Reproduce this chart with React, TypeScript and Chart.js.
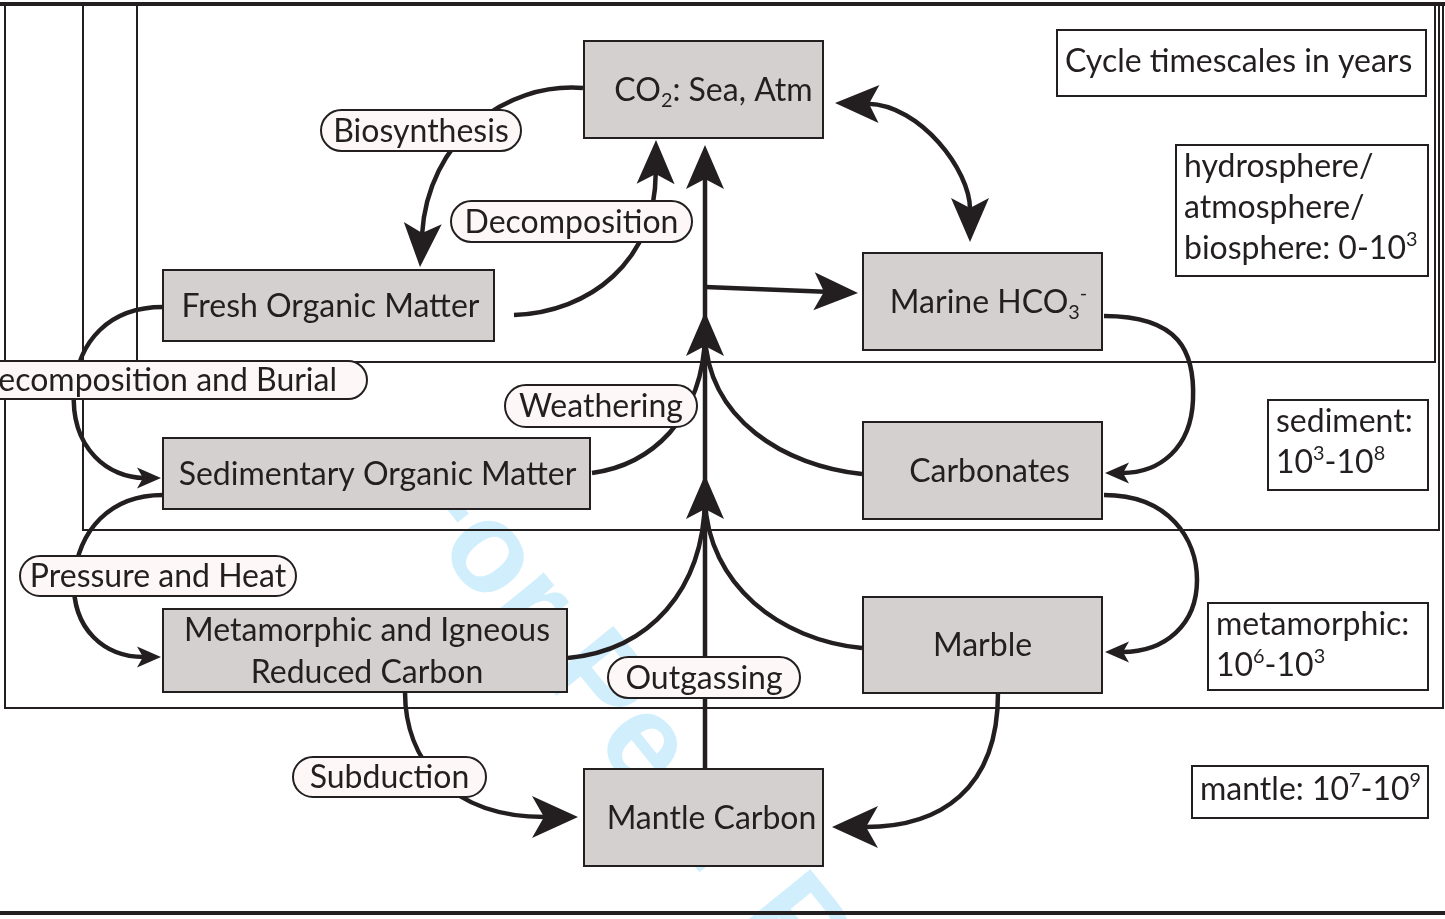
import React, { useEffect, useRef } from "react";
import { Chart, registerables } from "chart.js";

Chart.register(...registerables);

// ---------------- data ----------------
// Carbon reservoirs (grey boxes), diagram units
const reservoirLabels = [
  "CO_{2}: Sea, Atm",
  "Fresh Organic Matter",
  "Marine HCO_{3}^{-}",
  "Sedimentary Organic Matter",
  "Carbonates",
  "Metamorphic and Igneous|Reduced Carbon",
  "Marble",
  "Mantle Carbon",
];
const reservoirX0 = [584, 163, 863, 163, 863, 163, 863, 584];
const reservoirX1 = [823, 494, 1102, 590, 1102, 567, 1102, 823];
const reservoirY0 = [41, 270, 253, 438, 422, 609, 597, 769];
const reservoirY1 = [138, 341, 350, 509, 519, 692, 693, 866];
const reservoirTextShift = [10, 2, 6, 1, 7, 2, 0, 8];

// Process labels (pills); NaN left edge = fit to text (runs off the page)
const processLabels = [
  "Biosynthesis",
  "Decomposition",
  "Decomposition and Burial",
  "Weathering",
  "Pressure and Heat",
  "Outgassing",
  "Subduction",
];
const processX0 = [321, 451, NaN, 505, 20, 608, 293];
const processX1 = [521, 692, 367, 697, 296, 800, 486];
const processY0 = [110, 201, 361, 385, 556, 657, 757];
const processY1 = [151, 242, 399, 427, 596, 698, 797];

// Timescale legend boxes
const timescaleLines = [
  ["Cycle timescales in years"],
  ["hydrosphere/", "atmosphere/", "biosphere: 0-10^{3}"],
  ["sediment:", "10^{3}-10^{8}"],
  ["metamorphic:", "10^{6}-10^{3}"],
  ["mantle: 10^{7}-10^{9}"],
];
const timescaleX0 = [1057, 1176, 1268, 1208, 1192];
const timescaleX1 = [1426, 1428, 1428, 1428, 1428];
const timescaleY0 = [30, 145, 400, 603, 766];
const timescaleY1 = [96, 276, 490, 690, 818];
const timescaleFirstBaseline = [42, 32, 32, 32, 34];

// Zone frames (hydrosphere, sediment, metamorphic)
const zoneX0 = [137, 83, 5];
const zoneX1 = [1435, 1439, 1443];
const zoneY0 = [4, 4, 4];
const zoneY1 = [362, 530, 708];

// Fluxes: path points (start, [c1, c2, end]...)
const fluxPaths: number[][][] = [
  [[583, 88], [505, 82], [428, 140], [420, 267]], // biosynthesis
  [[514, 315], [590, 312], [655, 262], [656, 140]], // decomposition
  [[705, 769], [705, 145]], // outgassing / main trunk
  [[705, 287], [858, 293]], // to marine HCO3
  [[835, 103], [920, 105], [970, 170], [970, 242]], // CO2 <-> HCO3
  [[592, 473], [650, 465], [703, 420], [705, 335]], // weathering
  [[862, 474], [785, 466], [708, 420], [705, 335]], // carbonate weathering
  [[568, 658], [650, 650], [703, 590], [705, 500]], // metamorphic release
  [[862, 648], [780, 640], [708, 585], [705, 500]], // marble release
  [[1104, 316], [1180, 316], [1195, 352], [1193, 400], [1191, 448], [1160, 473], [1105, 473]],
  [[1104, 495], [1170, 495], [1197, 540], [1197, 580], [1197, 625], [1165, 652], [1105, 652]],
  [[163, 307], [110, 307], [78, 340], [74, 390], [70, 450], [110, 478], [161, 478]],
  [[163, 495], [110, 495], [78, 530], [74, 580], [72, 630], [105, 657], [161, 657]],
  [[405, 692], [405, 760], [450, 817], [578, 817]], // subduction
  [[998, 693], [998, 790], [940, 827], [832, 827]], // marble to mantle
];
const fluxHeads = ["end", "end", "end", "end", "both", "none", "none", "none", "none", "end", "end", "end", "end", "end", "end"];
const fluxHeadSize = ["big", "big", "big", "big", "big", "big", "big", "big", "big", "small", "small", "small", "small", "huge", "huge"];
const trunkHeadX = [705, 705];
const trunkHeadY = [312, 475];

// Watermark
const watermarkText = "For Peer Review";
const watermarkX = 413;
const watermarkY = 466;

// ---------------- styles ----------------
const INK = "#231f20";
const BOX_FILL = "#d3d0cf";
const PILL_FILL = "#fdf7f7";
const FONT = 'Lato, "Open Sans", sans-serif';
const FS = 32;
const BASE_SHIFT = 0.35;
const HEAD: Record<string, { len: number; hw: number; notch: number }> = {
  big: { len: 44, hw: 19, notch: 10 },
  huge: { len: 46, hw: 21, notch: 12 },
  small: { len: 24, hw: 10.5, notch: 6 },
};

type Seg = { t: string; k: "n" | "sub" | "sup" };
function parseRich(s: string): Seg[] {
  const out: Seg[] = [];
  const re = /([_^])\{([^}]*)\}/g;
  let last = 0;
  let m: RegExpExecArray | null;
  while ((m = re.exec(s))) {
    if (m.index > last) out.push({ t: s.slice(last, m.index), k: "n" });
    out.push({ t: m[2], k: m[1] === "_" ? "sub" : "sup" });
    last = re.lastIndex;
  }
  if (last < s.length) out.push({ t: s.slice(last), k: "n" });
  return out;
}

function layoutRich(ctx: CanvasRenderingContext2D, s: string, size: number) {
  const segs = parseRich(s);
  const items: { t: string; font: string; dx: number; dy: number }[] = [];
  let cx = 0;
  for (const sg of segs) {
    const sz = sg.k === "n" ? size : size * 0.62;
    const font = `${sz}px ${FONT}`;
    ctx.font = font;
    const w = ctx.measureText(sg.t).width;
    const dy = sg.k === "sub" ? size * 0.2 : sg.k === "sup" ? -size * 0.4 : 0;
    items.push({ t: sg.t, font, dx: cx, dy });
    cx += w;
  }
  return { items, width: cx };
}

function drawRich(ctx: CanvasRenderingContext2D, s: string, x: number, y: number, align: "left" | "center", size: number) {
  const { items, width } = layoutRich(ctx, s, size);
  const x0 = align === "center" ? x - width / 2 : x;
  ctx.textAlign = "left";
  ctx.textBaseline = "alphabetic";
  ctx.fillStyle = INK;
  for (const it of items) {
    ctx.font = it.font;
    ctx.fillText(it.t, x0 + it.dx, y + it.dy);
  }
}

const diagramPlugin = {
  id: "carbonDiagram",
  afterDraw(chart: any) {
    const ctx: CanvasRenderingContext2D = chart.ctx;
    const xs = chart.scales.x;
    const ys = chart.scales.y;
    const X = (v: number) => xs.getPixelForValue(v);
    const Y = (v: number) => ys.getPixelForValue(v);
    ctx.save();
    ctx.fillStyle = "#ffffff";
    ctx.fillRect(0, 0, chart.width, chart.height);

    // watermark
    ctx.save();
    ctx.translate(X(watermarkX), Y(watermarkY));
    ctx.rotate((51 * Math.PI) / 180);
    ctx.font = `bold 128px "Liberation Sans", Arial, sans-serif`;
    ctx.fillStyle = "#d0eefc";
    ctx.textAlign = "left";
    ctx.textBaseline = "alphabetic";
    ctx.fillText(watermarkText, 0, 33);
    ctx.restore();

    // frames
    ctx.strokeStyle = INK;
    ctx.lineWidth = 2;
    for (let i = 0; i < zoneX0.length; i++) {
      ctx.strokeRect(X(zoneX0[i]), Y(zoneY0[i]), X(zoneX1[i]) - X(zoneX0[i]), Y(zoneY1[i]) - Y(zoneY0[i]));
    }
    ctx.lineWidth = 4;
    ctx.beginPath();
    ctx.moveTo(X(0), Y(4));
    ctx.lineTo(X(1445), Y(4));
    ctx.moveTo(X(0), Y(913));
    ctx.lineTo(X(1445), Y(913));
    ctx.stroke();

    // arrows
    const head = (tx: number, ty: number, dx: number, dy: number, size: string) => {
      const h = HEAD[size];
      const px = -dy, py = dx;
      const bx = tx - dx * h.len, by = ty - dy * h.len;
      ctx.beginPath();
      ctx.moveTo(tx, ty);
      ctx.lineTo(bx + px * h.hw, by + py * h.hw);
      ctx.lineTo(tx - dx * (h.len - h.notch), ty - dy * (h.len - h.notch));
      ctx.lineTo(bx - px * h.hw, by - py * h.hw);
      ctx.closePath();
      ctx.fillStyle = INK;
      ctx.fill();
    };
    const unit = (ax: number, ay: number, bx: number, by: number) => {
      const l = Math.hypot(bx - ax, by - ay) || 1;
      return [(bx - ax) / l, (by - ay) / l];
    };
    ctx.lineWidth = 4.5;
    ctx.lineCap = "butt";
    ctx.strokeStyle = INK;
    for (let i = 0; i < fluxPaths.length; i++) {
      const p = fluxPaths[i].map(([a, b]) => [X(a), Y(b)]);
      const n = p.length;
      const mode = fluxHeads[i];
      const h = HEAD[fluxHeadSize[i]];
      const pts = p.map((q) => q.slice());
      let endDir: number[] = [0, 0];
      let startDir: number[] = [0, 0];
      if (mode === "end" || mode === "both") {
        endDir = unit(p[n - 2][0], p[n - 2][1], p[n - 1][0], p[n - 1][1]);
        const back = h.len - h.notch - 1;
        pts[n - 1] = [p[n - 1][0] - endDir[0] * back, p[n - 1][1] - endDir[1] * back];
      }
      if (mode === "start" || mode === "both") {
        startDir = unit(p[1][0], p[1][1], p[0][0], p[0][1]);
        const back = h.len - h.notch - 1;
        pts[0] = [p[0][0] - startDir[0] * back, p[0][1] - startDir[1] * back];
      }
      ctx.beginPath();
      ctx.moveTo(pts[0][0], pts[0][1]);
      if (n === 2) ctx.lineTo(pts[1][0], pts[1][1]);
      else
        for (let k = 1; k + 2 < n; k += 3)
          ctx.bezierCurveTo(pts[k][0], pts[k][1], pts[k + 1][0], pts[k + 1][1], pts[k + 2][0], pts[k + 2][1]);
      ctx.stroke();
      if (mode === "end" || mode === "both") head(p[n - 1][0], p[n - 1][1], endDir[0], endDir[1], fluxHeadSize[i]);
      if (mode === "start" || mode === "both") head(p[0][0], p[0][1], startDir[0], startDir[1], fluxHeadSize[i]);
    }
    for (let i = 0; i < trunkHeadX.length; i++) head(X(trunkHeadX[i]), Y(trunkHeadY[i]), 0, -1, "big");

    // reservoirs
    for (let i = 0; i < reservoirLabels.length; i++) {
      const x0 = X(reservoirX0[i]), x1 = X(reservoirX1[i]), y0 = Y(reservoirY0[i]), y1 = Y(reservoirY1[i]);
      ctx.fillStyle = BOX_FILL;
      ctx.fillRect(x0, y0, x1 - x0, y1 - y0);
      ctx.strokeStyle = INK;
      ctx.lineWidth = 2;
      ctx.strokeRect(x0, y0, x1 - x0, y1 - y0);
      const lines = reservoirLabels[i].split("|");
      const cx = (x0 + x1) / 2 + reservoirTextShift[i];
      const cy = (y0 + y1) / 2;
      const lh = 42;
      lines.forEach((ln, k) => {
        drawRich(ctx, ln, cx, cy + (k - (lines.length - 1) / 2) * lh + FS * BASE_SHIFT, "center", FS);
      });
    }

    // pills
    for (let i = 0; i < processLabels.length; i++) {
      const x1 = X(processX1[i]), y0 = Y(processY0[i]), y1 = Y(processY1[i]);
      let x0: number;
      if (isNaN(processX0[i])) {
        const w = layoutRich(ctx, processLabels[i], FS).width;
        x0 = x1 - w - 60;
      } else x0 = X(processX0[i]);
      const r = (y1 - y0) / 2;
      ctx.beginPath();
      ctx.moveTo(x0 + r, y0);
      ctx.lineTo(x1 - r, y0);
      ctx.arc(x1 - r, y0 + r, r, -Math.PI / 2, Math.PI / 2);
      ctx.lineTo(x0 + r, y1);
      ctx.arc(x0 + r, y0 + r, r, Math.PI / 2, (3 * Math.PI) / 2);
      ctx.closePath();
      ctx.fillStyle = PILL_FILL;
      ctx.fill();
      ctx.strokeStyle = INK;
      ctx.lineWidth = 2;
      ctx.stroke();
      drawRich(ctx, processLabels[i], (x0 + x1) / 2, (y0 + y1) / 2 + FS * BASE_SHIFT, "center", FS);
    }

    // timescale boxes
    for (let i = 0; i < timescaleLines.length; i++) {
      const x0 = X(timescaleX0[i]), x1 = X(timescaleX1[i]), y0 = Y(timescaleY0[i]), y1 = Y(timescaleY1[i]);
      ctx.fillStyle = "#ffffff";
      ctx.fillRect(x0, y0, x1 - x0, y1 - y0);
      ctx.strokeStyle = INK;
      ctx.lineWidth = 2;
      ctx.strokeRect(x0, y0, x1 - x0, y1 - y0);
      timescaleLines[i].forEach((ln, k) => {
        drawRich(ctx, ln, x0 + 8, y0 + timescaleFirstBaseline[i] + k * 41, "left", FS);
      });
    }
    ctx.restore();
  },
};

export default function App() {
  const ref = useRef<HTMLCanvasElement>(null);
  useEffect(() => {
    document.body.style.margin = "0";
    const canvas = ref.current!;
    const chart = new Chart(canvas, {
      type: "scatter",
      data: {
        datasets: [
          {
            label: "reservoirs",
            data: reservoirLabels.map((_, i) => ({
              x: (reservoirX0[i] + reservoirX1[i]) / 2,
              y: (reservoirY0[i] + reservoirY1[i]) / 2,
            })),
            pointRadius: 0,
          },
        ],
      },
      options: {
        animation: false,
        responsive: false,
        events: [],
        layout: { padding: 0 },
        plugins: { legend: { display: false }, tooltip: { enabled: false }, title: { display: false } },
        scales: {
          x: { type: "linear", min: 0, max: 1445, display: false },
          y: { type: "linear", min: 0, max: 919, reverse: true, display: false },
        },
      },
      plugins: [diagramPlugin],
    });
    return () => chart.destroy();
  }, []);
  return <canvas ref={ref} width={1445} height={919} style={{ display: "block", width: "1445px", height: "919px" }} />;
}
